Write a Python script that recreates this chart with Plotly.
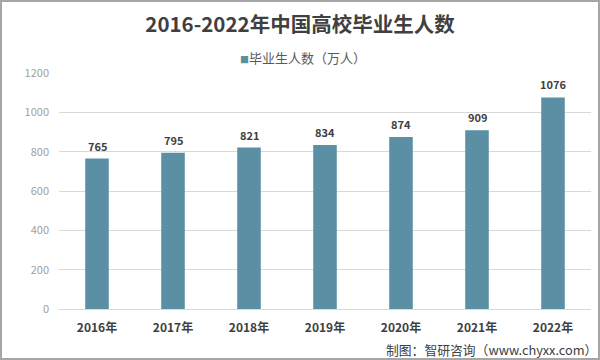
import plotly.graph_objects as go

years = ["2016年", "2017年", "2018年", "2019年", "2020年", "2021年", "2022年"]
graduates = [765, 795, 821, 834, 874, 909, 1076]
y_ticks = [0, 200, 400, 600, 800, 1000, 1200]

title_text = "2016-2022年中国高校毕业生人数"
series_name = "毕业生人数（万人）"
source_text = "制图：智研咨询（www.chyxx.com）"

BAR = "#5b8fa3"
FONT = "Noto Sans CJK SC, Noto Sans, sans-serif"

L, R, T, B = 59, 9, 73, 51
W, H = 600, 360
pw, ph = W - L - R, H - T - B

fig = go.Figure()
fig.add_trace(go.Bar(
    x=years, y=graduates, name=series_name,
    marker=dict(color=BAR, line=dict(width=0)),
    width=0.31, showlegend=False,
))

for x, v in zip(years, graduates):
    fig.add_annotation(x=x, y=v, text=f"<b>{v}</b>", showarrow=False,
                       yanchor="bottom", yshift=3,
                       font=dict(family=FONT, size=11, color="#404040"))

# legend (drawn as text so the marker sits tight against the label)
fig.add_annotation(xref="paper", yref="paper", x=(238 - L) / pw, y=1 + (T - 58) / ph,
                   text=f"<span style='font-size:9px;color:{BAR}'>■</span>{series_name}",
                   showarrow=False, xanchor="left", yanchor="middle",
                   font=dict(family=FONT, size=13, color="#595959"))

fig.add_annotation(xref="paper", yref="paper", x=1 + 7 / pw, y=-(349 - (H - B)) / ph,
                   text=source_text, showarrow=False, xanchor="right", yanchor="middle",
                   borderpad=0,
                   font=dict(family=FONT, size=12.8, color="#404040"))

# outer border
fig.add_shape(type="rect", xref="paper", yref="paper",
              x0=-(L - 1) / pw, x1=1 + (R - 1) / pw,
              y0=-(B - 1) / ph, y1=1 + (T - 1) / ph,
              line=dict(color="#a6a6a6", width=2), layer="above")

fig.update_layout(
    width=W, height=H,
    margin=dict(l=L, r=R, t=T, b=B, autoexpand=False),
    paper_bgcolor="white", plot_bgcolor="white",
    title=dict(text=f"<b>{title_text}</b>", x=0.5, xref="container", xanchor="center",
               y=1 - 25 / H, yanchor="middle",
               font=dict(family=FONT, size=20.5, color="#404040")),
    showlegend=False,
    xaxis=dict(showgrid=False, showline=True, linecolor="#d9d9d9", linewidth=1,
               tickfont=dict(family=FONT, size=12, color="#404040", weight="bold"),
               ticks="", ticklabelstandoff=8, automargin=False),
    yaxis=dict(range=[0, 1200], tickvals=y_ticks, showgrid=True, gridcolor="#d9d9d9",
               gridwidth=1, zeroline=False, showline=False,
               tickfont=dict(family=FONT, size=11, color="#a0a0a0"),
               ticklabelstandoff=9, automargin=False),
    bargap=0.69,
)

fig.write_html("out.html", config={"displayModeBar": False},
               post_script="document.body.style.margin='0';")
